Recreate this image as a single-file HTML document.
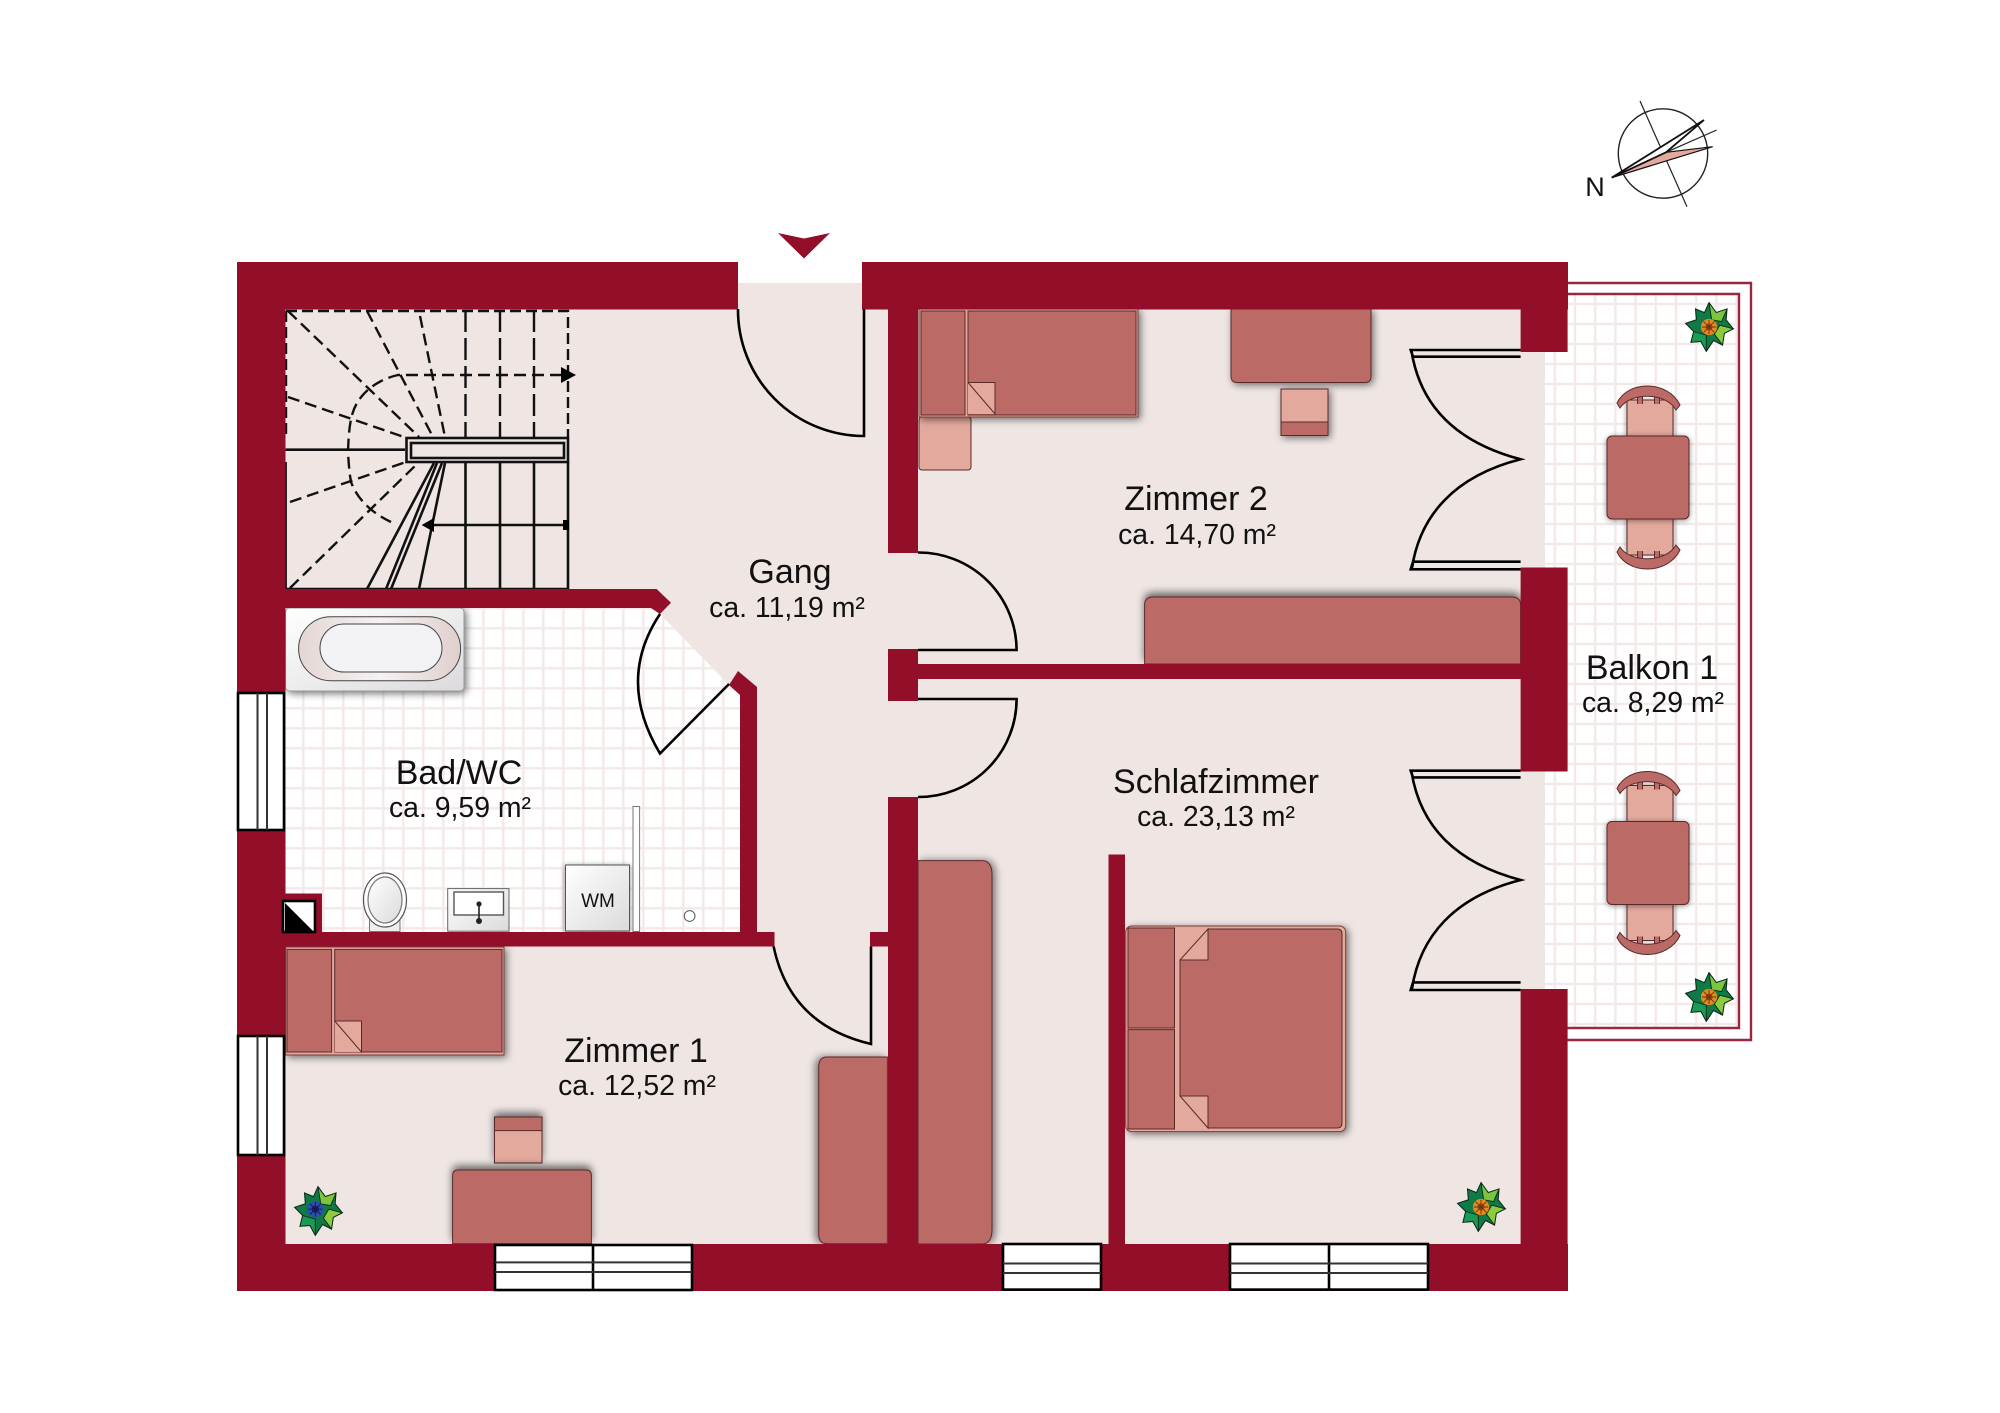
<!DOCTYPE html>
<html><head><meta charset="utf-8"><style>
html,body{margin:0;padding:0;background:#fff;width:2000px;height:1413px;overflow:hidden}
svg{display:block}
text{font-family:"Liberation Sans",sans-serif;fill:#111;text-anchor:middle}
.t{font-size:34px}.s{font-size:28.4px}
.f{fill:#bc6a66;stroke:#5a2a2a;stroke-width:1}
.l{fill:#e4a99d;stroke:#5a2a2a;stroke-width:1}
.d{fill:none;stroke:#000;stroke-width:2.6}
.st{stroke:#111;stroke-width:2.6;fill:none}
.da{stroke:#111;stroke-width:2.4;fill:none;stroke-dasharray:12 6}
.win{fill:#fff;stroke:#000;stroke-width:2.6}
.wl{stroke:#333;stroke-width:2}
</style></head><body>
<svg width="2000" height="1413" viewBox="0 0 2000 1413" xmlns="http://www.w3.org/2000/svg">
<defs>
<pattern id="tb" x="283.3" y="688.3" width="20" height="20" patternUnits="userSpaceOnUse">
<rect width="20" height="20" fill="#fff"/><rect x="18.8" width="2.4" height="20" fill="#f3e9e7"/><rect y="18.8" width="20" height="2.4" fill="#f3e9e7"/><rect x="0" width="1.2" height="20" fill="#f3e9e7"/><rect y="0" width="20" height="1.2" fill="#f3e9e7"/>
</pattern>
<pattern id="tk" x="1575" y="284" width="20.2" height="20" patternUnits="userSpaceOnUse">
<rect width="20.2" height="20" fill="#fff"/><rect x="19" width="2.4" height="20" fill="#f3e9e7"/><rect y="18.8" width="20.2" height="2.4" fill="#f3e9e7"/><rect x="0" width="1.2" height="20" fill="#f3e9e7"/><rect y="0" width="20.2" height="1.2" fill="#f3e9e7"/>
</pattern>
<filter id="sh" x="-20%" y="-20%" width="140%" height="140%"><feDropShadow dx="2" dy="2" stdDeviation="4" flood-color="#000" flood-opacity=".55"/></filter>
<filter id="shu" x="-20%" y="-30%" width="140%" height="160%"><feDropShadow dx="0" dy="-4" stdDeviation="4" flood-color="#000" flood-opacity=".55"/></filter>
<filter id="shl" x="-30%" y="-10%" width="160%" height="120%"><feDropShadow dx="-3" dy="0" stdDeviation="4" flood-color="#000" flood-opacity=".5"/></filter>
<filter id="shr" x="-30%" y="-10%" width="160%" height="120%"><feDropShadow dx="3" dy="0" stdDeviation="4" flood-color="#000" flood-opacity=".5"/></filter>
<filter id="shs" x="-30%" y="-30%" width="160%" height="160%"><feDropShadow dx="0" dy="1" stdDeviation="3" flood-color="#000" flood-opacity=".45"/></filter>
<linearGradient id="wg" x1="0" y1="0" x2="1" y2="1"><stop offset="0" stop-color="#fff"/><stop offset="1" stop-color="#dcdadc"/></linearGradient>
<linearGradient id="tg" x1="0" y1="0" x2="1" y2="0"><stop offset="0" stop-color="#e3d6d5"/><stop offset=".5" stop-color="#f6f2f2"/><stop offset="1" stop-color="#dfcfcd"/></linearGradient>
<g id="plant">
<polygon points="0,-27 8,-16 20,-20 19,-8 27,2 17,7 15,20 5,15 -3,27 -9,16 -20,17 -17,5 -26,-4 -14,-8 -15,-20 -5,-16" fill="#0f7a45" stroke="#0c2a1a" stroke-width="1.2"/>
<polygon points="0,-27 8,-16 20,-20 14,-6 3,-8" fill="#7cc63d" stroke="#0c2a1a" stroke-width="1"/>
<polygon points="27,2 17,7 15,20 6,8 12,-2" fill="#8ccb3e" stroke="#0c2a1a" stroke-width="1"/>
<polygon points="-17,5 -20,17 -9,16 -3,27 -3,9" fill="#1c9a55" stroke="#0c2a1a" stroke-width="1"/>
</g>
<g id="pc"><circle r="9" fill="#e58a1f"/><circle r="4" fill="#c2401a"/><path d="M-8,0H8M0,-8V8M-6,-6L6,6M6,-6L-6,6" stroke="#5f3a10" stroke-width="1"/></g>
<g id="pb"><circle r="9" fill="#2a4fb0"/><circle r="4" fill="#16206a"/><path d="M-8,0H8M0,-8V8M-6,-6L6,6M6,-6L-6,6" stroke="#101a50" stroke-width="1"/></g>
<g id="chair">
<rect x="-21" y="400" width="46" height="36" class="l" filter="url(#shs)"/>
<path d="M-8,394V404M9,394V404" stroke="#5a2a2a" stroke-width="6"/><path d="M-8,394V404M9,394V404" stroke="#bc6a66" stroke-width="4"/>
<path d="M-31,403C-20,380 20,380 32,405L28,410C18,392 -18,392 -28,408Z" fill="#bc6a66" stroke="#5a2a2a" stroke-width="1"/>
</g>
<g id="tbl">
<use href="#chair"/>
<use href="#chair" transform="translate(0,955) scale(1,-1)"/>
<rect x="-41" y="436" width="82" height="83" rx="5" class="f" filter="url(#shs)"/>
</g>
<g id="dbl">
<path class="d" d="M1520.6,350H1410.7L1413,356.7H1520.6M1411.5,351C1420,405 1455,442 1520.6,459.3C1455,476 1420,515 1412,568M1520.6,561.7H1413M1520.6,569.3H1410.7L1413,561.7"/>
</g>
</defs>

<rect width="2000" height="1413" fill="#fff"/>

<!-- balcony -->
<rect x="1545" y="294" width="194" height="734" fill="url(#tk)"/>
<path d="M1567,283H1751V1040H1567M1567,294H1739V1028H1567" fill="none" stroke="#98283f" stroke-width="2.4"/>

<!-- floors -->
<rect x="285" y="309" width="1236" height="936" fill="#efe6e4"/>
<rect x="738" y="283" width="124" height="30" fill="#efe6e4"/>
<rect x="1520" y="352" width="25" height="216" fill="#efe6e4"/>
<rect x="1520" y="771" width="25" height="219" fill="#efe6e4"/>
<polygon points="285,608 651,608 660,614 729,685 740,695 740,932 285,932" fill="url(#tb)"/>

<!-- stair -->
<g>
<path d="M286,311V438M286,311H568V437" class="da" style="stroke-width:2.4;stroke-dasharray:11 5"/>
<path d="M465.5,310V437M500,310V437M534,310V437" class="da" style="stroke-dasharray:22 6"/>
<path d="M288,311L419,437M367,311L433,437M420,316L445,437M288,397L404,437" class="da"/>
<path d="M562,375H398C384,378 370,386 362,396C352,408 349,420 348,452C349,470 350,476 351,482C356,495 366,510 391,522" class="da"/>
<polygon points="576,375 561,367 561,383" fill="#000"/>
<path d="M285.6,462V589H568V462M285.6,449.7H405M465.5,462V589M500,462V589M534,462V589" class="st"/>
<path d="M367,589L434,463M386,589L437,463M391,589L442,463M419,589L445,463M430,525H566" class="st"/>
<path d="M290,502L406,462M290,588L418,463" class="da"/>
<polygon points="421.7,525 434,518 434,532" fill="#000"/>
<rect x="563" y="520" width="6" height="10" fill="#000"/>
<rect x="406.5" y="438" width="161.5" height="24" fill="#efe6e4" stroke="#111" stroke-width="2.6"/>
<rect x="411" y="443" width="153" height="15" fill="#efe6e4" stroke="#111" stroke-width="2.6"/>
</g>

<!-- furniture Zimmer 2 -->
<rect x="919" y="417" width="52" height="53" rx="3" class="l"/>
<rect x="919" y="309" width="219" height="108" fill="#e4a99d" stroke="#7a3d3b" stroke-width="1" filter="url(#sh)"/>
<rect x="921" y="311" width="44" height="104" class="f"/>
<rect x="968" y="311" width="168" height="104" class="f"/>
<polygon points="968,382.5 995,382.5 995,414 968,414" fill="#e4a99d"/>
<path d="M968,382.5H995V414L968,382.5" fill="#e4a99d" stroke="#5a2a2a" stroke-width="1"/>
<path d="M1231,309H1371V376Q1371,382.5 1365,382.5H1237Q1231,382.5 1231,376Z" class="f" filter="url(#sh)"/>
<rect x="1281" y="389" width="47" height="46.5" class="l" filter="url(#sh)"/>
<rect x="1281" y="422" width="47" height="13.5" class="f"/>
<path d="M1144.6,664V605Q1144.6,597 1153,597H1512Q1520.6,597 1520.6,605V664Z" class="f" filter="url(#shu)"/>

<!-- furniture Schlafzimmer -->
<path d="M918,860.6H982Q992,860.6 992,875V1229Q992,1244 982,1244H918Z" class="f" filter="url(#shr)"/>
<rect x="1125.7" y="926" width="220" height="205.6" rx="6" fill="#e4a99d" stroke="#7a3d3b" stroke-width="1" filter="url(#sh)"/>
<rect x="1128" y="928" width="46.5" height="100" class="f"/>
<rect x="1128" y="1029.6" width="46.5" height="99.4" class="f"/>
<path d="M1208,929H1337Q1342,929 1342,934V1123Q1342,1128 1337,1128H1208V1096H1180V960H1208Z" class="f" stroke="none"/>
<path d="M1180,960L1208,929V960H1180" fill="#e4a99d" stroke="#5a2a2a" stroke-width="1"/>
<path d="M1180,1096H1208V1128L1180,1096" fill="#e4a99d" stroke="#5a2a2a" stroke-width="1"/>

<!-- furniture Zimmer 1 -->
<rect x="285.6" y="947" width="218.4" height="108" fill="#e4a99d" stroke="#7a3d3b" stroke-width="1" filter="url(#sh)"/>
<rect x="287" y="949.4" width="44.6" height="102.6" class="f"/>
<rect x="334.7" y="949.4" width="167.3" height="102.6" class="f"/>
<polygon points="334.7,1021 361.5,1021 361.5,1052 334.7,1052" fill="#e4a99d"/>
<path d="M334.7,1021H361.5V1052L334.7,1021" fill="#e4a99d" stroke="#5a2a2a" stroke-width="1"/>
<rect x="494.5" y="1117" width="47.5" height="46" class="l" filter="url(#shu)"/>
<rect x="494.5" y="1117" width="47.5" height="13.6" class="f"/>
<path d="M452.6,1243.7V1176Q452.6,1170 458,1170H586Q591.4,1170 591.4,1176V1243.7Z" class="f" filter="url(#shu)"/>
<path d="M887.4,1057H827Q818.7,1057 818.7,1067V1234Q818.7,1243.7 827,1243.7H887.4Z" class="f" filter="url(#shl)"/>

<!-- bath fixtures -->
<rect x="285.6" y="608" width="178.4" height="83" rx="4" fill="url(#wg)" stroke="#999" stroke-width="1" filter="url(#sh)"/>
<rect x="298.6" y="616.7" width="162" height="64" rx="32" fill="url(#tg)" stroke="#444" stroke-width="1"/>
<rect x="320" y="624" width="122" height="48" rx="24" fill="#f3f2f4" stroke="#444" stroke-width="1"/>
<rect x="369.5" y="920" width="30.5" height="11.5" fill="#eee" stroke="#777" stroke-width="1"/>
<ellipse cx="385" cy="900" rx="21.5" ry="27" fill="#fff" stroke="#555" stroke-width="1.2"/>
<ellipse cx="385" cy="900" rx="17" ry="23" fill="url(#wg)" stroke="#777" stroke-width="1.2"/>
<rect x="447.7" y="888.6" width="61.3" height="42.6" fill="url(#wg)" stroke="#666" stroke-width="1"/>
<rect x="454" y="892" width="49.5" height="23" fill="#fff" stroke="#555" stroke-width="1.4"/>
<path d="M479,904V921" stroke="#222" stroke-width="1.6"/><circle cx="479" cy="904" r="2.6" fill="#222"/><circle cx="479" cy="921" r="3" fill="#222"/>
<rect x="565.5" y="865" width="64" height="66" fill="url(#wg)" stroke="#555" stroke-width="1" filter="url(#shs)"/>
<text x="598" y="907" style="font-size:19px">WM</text>
<rect x="633" y="806.5" width="6.6" height="125" fill="#fff" stroke="#777" stroke-width="1"/>
<circle cx="689.6" cy="916" r="5.4" fill="#fff" stroke="#555" stroke-width="1"/>

<!-- walls -->
<g fill="#930f29">
<rect x="237" y="262" width="501" height="47.5"/>
<rect x="862" y="262" width="706" height="47.5"/>
<rect x="237" y="262" width="48.5" height="1029"/>
<rect x="237" y="1244" width="1331" height="47"/>
<rect x="1520.6" y="262" width="47" height="90"/>
<rect x="1520.6" y="567.5" width="47" height="204"/>
<rect x="1520.6" y="989" width="47" height="302"/>
<rect x="888" y="300" width="30" height="253"/>
<rect x="888" y="649" width="30" height="52"/>
<rect x="888" y="797" width="30" height="494"/>
<rect x="918" y="664" width="603" height="15"/>
<rect x="1108.5" y="854.5" width="16.5" height="392"/>
<polygon points="285,589 656.6,589 671,602.7 660,614 651,608 285,608"/>
<polygon points="729,685 738,671 757,687 757,932 774.5,932 774.5,946.5 285,946.5 285,932 740,932 740,695"/>
<rect x="870" y="932" width="20" height="14.5"/>
<rect x="285" y="893.5" width="37" height="40"/>
</g>
<rect x="283" y="901" width="32" height="31" fill="#fff" stroke="#000" stroke-width="2.6"/>
<polygon points="285,903 313,931 285,931" fill="#000"/>
<polygon points="778,233 804,238.5 830,233 804,258.5" fill="#930f29"/>

<!-- windows -->
<rect x="238" y="693" width="46" height="137" class="win"/><path d="M257.5,693V830M267,693V830" class="wl"/>
<rect x="238" y="1036" width="46" height="119" class="win"/><path d="M257.5,1036V1155M267,1036V1155" class="wl"/>
<rect x="495" y="1245" width="197" height="45" class="win"/><path d="M593,1245V1290" stroke="#000" stroke-width="2.6"/><path d="M495,1262.4H692M495,1272H692" class="wl"/>
<rect x="1003" y="1244" width="98" height="45.6" class="win"/><path d="M1003,1263.5H1101M1003,1273H1101" class="wl"/>
<rect x="1230" y="1244" width="198" height="45.6" class="win"/><path d="M1329,1244V1289.6" stroke="#000" stroke-width="2.6"/><path d="M1230,1263.5H1428M1230,1273H1428" class="wl"/>

<!-- doors -->
<path class="d" d="M738,309A126,126 0 0 0 864,436V309"/>
<path class="d" d="M918,552.5A98,98 0 0 1 1016.6,650H918"/>
<path class="d" d="M918,699H1016.6A98,98 0 0 1 918,797"/>
<path class="d" d="M660,614Q616,680 660,753.5L729,684"/>
<path class="d" d="M773.6,946.5Q790,1025 871,1044V946.5"/>
<use href="#dbl"/>
<use href="#dbl" transform="translate(0,420.7)"/>

<!-- balcony furniture -->
<use href="#tbl" transform="translate(1648,0)"/>
<use href="#tbl" transform="translate(1648,385.5)"/>

<!-- plants -->
<g transform="translate(1709,327) scale(.9)"><use href="#plant"/><use href="#pc"/></g>
<g transform="translate(1709,997) scale(.9)"><use href="#plant"/><use href="#pc"/></g>
<g transform="translate(1481,1207) scale(.9)"><use href="#plant"/><use href="#pc"/></g>
<g transform="translate(318,1211) scale(.9)"><use href="#plant"/><use href="#pb" x="-3" y="-2"/></g>

<!-- compass -->
<circle cx="1663" cy="153.5" r="44.7" fill="none" stroke="#222" stroke-width="1.4"/>
<path d="M1640,101L1687,206.7" stroke="#222" stroke-width="1.2"/>
<path d="M1666,152.3L1716.7,130" stroke="#222" stroke-width="1.2"/>
<polygon points="1611.7,177.7 1666,152.3 1712.7,146.7 1667,160.7" fill="#e4a99d" stroke="#111" stroke-width="1.2"/>
<polygon points="1611.7,177.7 1704,120 1666,152.3" fill="#fff" stroke="#111" stroke-width="1.8"/>
<text x="1595" y="196" style="font-size:27px">N</text>

<!-- labels -->
<text class="t" x="790" y="583">Gang</text><text class="s" x="790" y="620" dx="-3" dy="-3">ca. 11,19 m²</text>
<text class="t" x="1196" y="510">Zimmer 2</text><text class="s" x="1197" y="544">ca. 14,70 m²</text>
<text class="t" x="1652" y="679">Balkon 1</text><text class="s" x="1653" y="712">ca. 8,29 m²</text>
<text class="t" x="1216" y="793">Schlafzimmer</text><text class="s" x="1216" y="826">ca. 23,13 m²</text>
<text class="t" x="459" y="784">Bad/WC</text><text class="s" x="460" y="817">ca. 9,59 m²</text>
<text class="t" x="636" y="1062">Zimmer 1</text><text class="s" x="637" y="1095">ca. 12,52 m²</text>
</svg>
</body></html>
